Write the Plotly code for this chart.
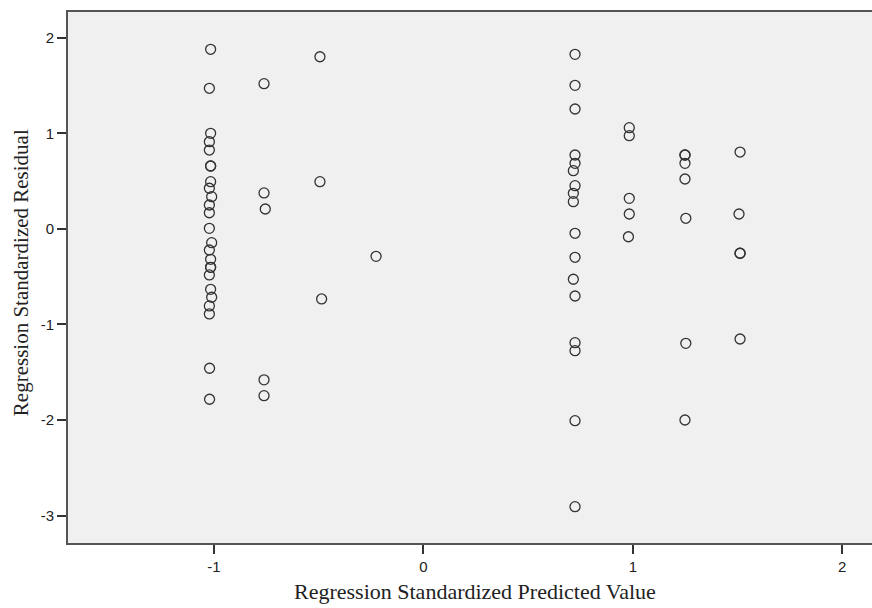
import plotly.graph_objects as go

# Regression Standardized Predicted Value (x) and Residual (y)
pred_col_m1 = [-1.016, -1.022, -1.016, -1.022, -1.022, -1.016, -1.016, -1.016, -1.022, -1.011,
               -1.022, -1.022, -1.022, -1.011, -1.022, -1.016, -1.016, -1.016, -1.022, -1.016,
               -1.011, -1.022, -1.022, -1.021, -1.021]
resid_col_m1 = [1.879, 1.471, 1.000, 0.912, 0.825, 0.658, 0.658, 0.494, 0.425, 0.337,
                0.250, 0.169, 0.006, -0.144, -0.221, -0.318, -0.402, -0.402, -0.482, -0.632,
                -0.715, -0.806, -0.890, -1.458, -1.782]

pred_col_m076 = [-0.761, -0.761, -0.755, -0.761, -0.761]
resid_col_m076 = [1.519, 0.376, 0.208, -1.579, -1.745]

pred_col_m049 = [-0.494, -0.494, -0.486]
resid_col_m049 = [1.801, 0.494, -0.733]

pred_col_m023 = [-0.226]
resid_col_m023 = [-0.287]

pred_col_072 = [0.724, 0.724, 0.724, 0.724, 0.724, 0.716, 0.724, 0.716, 0.716, 0.724,
                0.724, 0.716, 0.724, 0.724, 0.724, 0.724, 0.724]
resid_col_072 = [1.826, 1.502, 1.254, 0.773, 0.686, 0.609, 0.452, 0.372, 0.285, -0.046,
                 -0.297, -0.527, -0.702, -1.190, -1.274, -2.006, -2.906]

pred_col_098 = [0.983, 0.983, 0.983, 0.983, 0.979]
resid_col_098 = [1.059, 0.975, 0.320, 0.156, -0.082]

pred_col_125 = [1.249, 1.249, 1.249, 1.249, 1.253, 1.253, 1.249]
resid_col_125 = [0.773, 0.773, 0.686, 0.522, 0.111, -1.197, -1.999]

pred_col_151 = [1.512, 1.507, 1.512, 1.512, 1.512]
resid_col_151 = [0.804, 0.156, -0.255, -0.255, -1.152]

x_tick_vals = [-1, 0, 1, 2]
x_tick_text = ["-1", "0", "1", "2"]
y_tick_vals = [2, 1, 0, -1, -2, -3]
y_tick_text = ["2", "1", "0", "-1", "-2", "-3"]

x_title = "Regression Standardized Predicted Value"
y_title = "Regression Standardized Residual"

pred_all = (pred_col_m1 + pred_col_m076 + pred_col_m049 + pred_col_m023 +
            pred_col_072 + pred_col_098 + pred_col_125 + pred_col_151)
resid_all = (resid_col_m1 + resid_col_m076 + resid_col_m049 + resid_col_m023 +
             resid_col_072 + resid_col_098 + resid_col_125 + resid_col_151)

fig = go.Figure()
fig.add_trace(go.Scatter(
    x=pred_all, y=resid_all, mode="markers",
    marker=dict(symbol="circle-open", size=10, color="#333333",
                line=dict(width=1.3, color="#333333")),
    hoverinfo="x+y", showlegend=False,
))

axis_common = dict(
    showgrid=False, zeroline=False, showline=True, linewidth=2, linecolor="#555555",
    ticks="outside", ticklen=9, tickwidth=2, tickcolor="#333333",
    tickfont=dict(family="Liberation Sans, Arial, sans-serif", size=15, color="#222222"),
)

fig.update_layout(
    width=872, height=608,
    margin=dict(l=68, r=0, t=12, b=65),
    paper_bgcolor="white", plot_bgcolor="#f0f0f0",
    xaxis=dict(range=[-1.697, 2.142], tickvals=x_tick_vals, ticktext=x_tick_text,
               mirror=True, **axis_common),
    yaxis=dict(range=[-3.286, 2.269], tickvals=y_tick_vals, ticktext=y_tick_text,
               **axis_common),
    annotations=[
        dict(text=x_title, xref="paper", yref="paper", x=0.506, y=-0.0904,
             xanchor="center", yanchor="middle", showarrow=False,
             font=dict(family="Liberation Serif, Times New Roman, serif", size=22, color="#222222")),
        dict(text=y_title, xref="paper", yref="paper", x=-0.0585, y=0.51,
             xanchor="center", yanchor="middle", showarrow=False, textangle=-90,
             font=dict(family="Liberation Serif, Times New Roman, serif", size=21, color="#222222")),
    ],
)

fig.write_html("out.html", config={"displayModeBar": False},
               post_script="document.body.style.margin='0px';document.body.style.overflow='hidden';")
